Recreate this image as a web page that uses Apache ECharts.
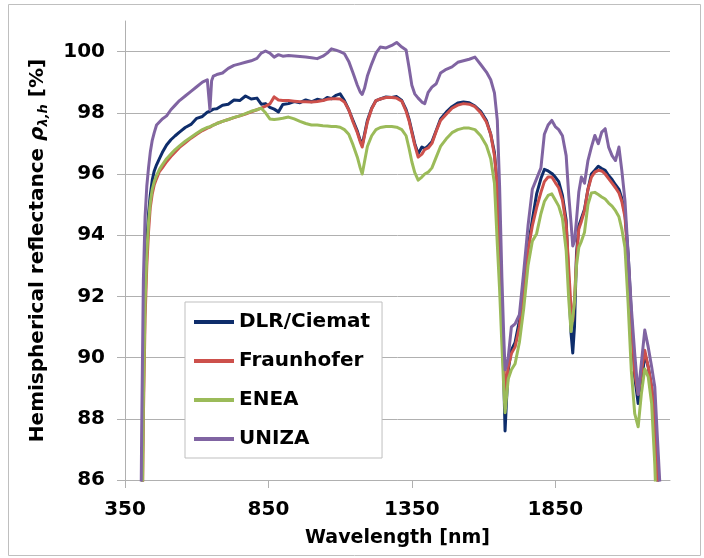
<!DOCTYPE html>
<html>
<head>
<meta charset="utf-8">
<script src="https://cdn.jsdelivr.net/npm/echarts@6/dist/echarts.min.js"></script>
<style>
  html, body { margin: 0; padding: 0; background: #fff; }
  #chart { width: 704px; height: 558px; }
</style>
</head>
<body>
<div id="chart"></div>
<script>
// wavelength grid [nm]
var wavelength = [400, 408, 414, 420, 426, 432, 438, 445, 452, 460,
  470, 480, 495, 510, 525, 540, 560, 580, 600, 620,
  637, 646, 652, 658, 670, 690, 710, 730, 750, 770,
  790, 810, 825, 840, 855, 870, 885, 900, 920, 940,
  960, 980, 1000, 1020, 1040, 1055, 1070, 1085, 1100, 1115,
  1130, 1145, 1160, 1170, 1177, 1185, 1195, 1210, 1225, 1240,
  1260, 1280, 1297, 1315, 1330, 1340, 1350, 1360, 1372, 1385,
  1395, 1407, 1420, 1435, 1450, 1470, 1490, 1510, 1530, 1550,
  1570, 1590, 1610, 1625, 1638, 1648, 1656, 1664, 1670, 1675,
  1680, 1686, 1697, 1710, 1725, 1740, 1755, 1770, 1785, 1800,
  1812, 1825, 1838, 1850, 1862, 1875, 1888, 1897, 1905, 1911,
  1917, 1924, 1932, 1941, 1952, 1964, 1976, 1988, 2000, 2012,
  2024, 2036, 2048, 2060, 2072, 2082, 2093, 2104, 2115, 2127,
  2139, 2150, 2162, 2174, 2186, 2197, 2206, 2214, 2222];

var dlrCiemat = [78, 84, 89.5, 92.3, 93.8, 94.7, 95.3, 95.8, 96.1, 96.3,
  96.5, 96.7, 96.95, 97.12, 97.25, 97.37, 97.52, 97.62, 97.82, 97.88,
  98.02, 98.05, 98.08, 98.12, 98.13, 98.25, 98.28, 98.42, 98.4, 98.55,
  98.45, 98.48, 98.28, 98.3, 98.18, 98.12, 98.03, 98.27, 98.3, 98.37,
  98.33, 98.42, 98.36, 98.44, 98.4, 98.5, 98.46, 98.57, 98.62, 98.4,
  98.1, 97.75, 97.4, 97.1, 96.95, 97.3, 97.75, 98.15, 98.4, 98.45,
  98.52, 98.5, 98.53, 98.4, 98.1, 97.8, 97.4, 97.0, 96.66, 96.88,
  96.83, 96.92, 97.05, 97.42, 97.8, 98.02, 98.2, 98.32, 98.35, 98.33,
  98.22, 98.05, 97.75, 97.3, 96.7, 95.6, 93.4, 91.3, 89.5, 87.6,
  88.6, 89.6, 90.24, 90.5, 91.2, 92.4, 93.6, 94.5, 95.35, 95.85,
  96.15, 96.1, 96.02, 95.9, 95.75, 95.3, 94.5, 92.5, 90.8, 90.15,
  91.0, 93.4, 94.3, 94.55, 94.85, 95.5, 96.0, 96.12, 96.25, 96.18,
  96.12, 95.95, 95.82, 95.65, 95.5, 95.2, 94.7, 93.4, 91.44, 89.37,
  88.5, 89.04, 90.13, 89.7, 89.04, 87.95, 86.5, 84, 81];

var fraunhofer = [78, 82.5, 88, 91.3, 93.0, 94.1, 94.9, 95.35, 95.65, 95.85,
  96.08, 96.2, 96.4, 96.57, 96.72, 96.87, 97.02, 97.17, 97.3, 97.42,
  97.5, 97.53, 97.56, 97.6, 97.65, 97.72, 97.78, 97.84, 97.9, 97.96,
  98.03, 98.1, 98.15, 98.22, 98.29, 98.52, 98.42, 98.4, 98.4, 98.38,
  98.36, 98.36, 98.35, 98.37, 98.4, 98.44, 98.46, 98.46, 98.45, 98.35,
  98.1, 97.7, 97.35, 97.05, 96.88, 97.25, 97.7, 98.13, 98.4, 98.45,
  98.5, 98.5, 98.48, 98.38, 98.05, 97.75, 97.35, 96.95, 96.55, 96.65,
  96.8, 96.85, 97.0, 97.4, 97.75, 97.95, 98.15, 98.25, 98.3, 98.28,
  98.2, 98.0, 97.7, 97.3, 96.6, 95.6, 93.6, 91.6, 90.0, 88.9,
  89.2, 89.7, 90.13, 90.35, 91.0, 92.2, 93.5, 94.3, 94.9, 95.4,
  95.75, 95.9, 95.9, 95.72, 95.55, 95.15, 94.35, 92.9, 91.6, 91.2,
  91.9, 93.2, 94.2, 94.45, 94.8, 95.5, 95.9, 96.06, 96.12, 96.1,
  96.0, 95.85, 95.7, 95.55, 95.38, 95.1, 94.6, 93.2, 91.3, 89.5,
  88.8, 89.5, 90.24, 89.7, 89.04, 88.0, 86.3, 84, 81];

var enea = [78, 83, 88.5, 91.8, 93.4, 94.4, 95.05, 95.5, 95.75, 95.95,
  96.15, 96.3, 96.5, 96.65, 96.8, 96.92, 97.07, 97.2, 97.33, 97.45,
  97.52, 97.55, 97.57, 97.6, 97.65, 97.72, 97.78, 97.85, 97.9, 97.97,
  98.05, 98.1, 98.15, 98.0, 97.8, 97.78, 97.8, 97.82, 97.86, 97.8,
  97.72, 97.65, 97.6, 97.6, 97.58, 97.57, 97.55, 97.55, 97.53, 97.45,
  97.3, 96.95, 96.55, 96.2, 96.0, 96.4, 96.9, 97.25, 97.45, 97.52,
  97.55, 97.55, 97.53, 97.45, 97.25, 96.85, 96.4, 96.05, 95.8, 95.9,
  96.0, 96.06, 96.2, 96.55, 96.9, 97.15, 97.35, 97.45, 97.5, 97.5,
  97.45, 97.25, 96.93, 96.5, 95.7, 93.7, 92.2, 90.4, 89.1, 88.2,
  88.7, 89.3, 89.6, 89.8, 90.5, 91.6, 93.0, 93.8, 94.05, 94.7,
  95.1, 95.3, 95.35, 95.15, 94.95, 94.55, 93.5, 91.9, 90.85, 90.85,
  91.8, 93.0, 93.6, 93.8, 94.1, 95.0, 95.38, 95.4, 95.33, 95.25,
  95.18, 95.05, 94.95, 94.8, 94.6, 94.2, 93.6, 91.76, 89.59, 88.17,
  87.74, 88.8, 89.63, 89.37, 88.5, 86.5, 84, 82, 80];

var uniza = [78, 87.5, 92.5, 94.6, 95.6, 96.2, 96.7, 97.1, 97.35, 97.6,
  97.7, 97.8, 97.9, 98.1, 98.25, 98.4, 98.55, 98.7, 98.85, 99.0,
  99.08, 98.1, 99.05, 99.2, 99.25, 99.3, 99.45, 99.55, 99.6, 99.65,
  99.7, 99.78, 99.95, 100.02, 99.95, 99.82, 99.9, 99.85, 99.87, 99.86,
  99.84, 99.82, 99.8, 99.77, 99.85, 99.95, 100.09, 100.05, 100.0, 99.93,
  99.68, 99.3, 98.9, 98.68, 98.6, 98.8, 99.2, 99.6, 99.95, 100.15,
  100.12, 100.2, 100.3, 100.15, 100.05, 99.5, 98.9, 98.62, 98.48, 98.35,
  98.3, 98.67, 98.84, 98.95, 99.3, 99.42, 99.5, 99.65, 99.7, 99.75,
  99.82, 99.58, 99.33, 99.08, 98.65, 97.75, 95.57, 92.6, 90.8, 89.6,
  89.75, 90.0, 91.0, 91.1, 91.4, 92.8, 94.3, 95.5, 95.85, 96.2,
  97.3, 97.6, 97.75, 97.55, 97.45, 97.25, 96.6, 95.3, 94.4, 93.65,
  93.8, 94.5, 95.4, 95.9, 95.7, 96.44, 96.88, 97.26, 96.99, 97.37,
  97.48, 96.88, 96.6, 96.44, 96.88, 96.12, 95.13, 93.4, 91.65, 90.13,
  88.8, 89.8, 90.9, 90.35, 89.7, 89.04, 87.4, 86, 83];

var seriesNames = ['DLR/Ciemat', 'Fraunhofer', 'ENEA', 'UNIZA'];
var xTicks = [350, 850, 1350, 1850];
var yTicks = [86, 88, 90, 92, 94, 96, 98, 100];

var colorList = ['#0e2d6b', '#cd504b', '#9bbb59', '#8064a2'];
var fontFamily = '"DejaVu Sans", sans-serif';
var gridColor = '#b0b0b0';

function pairs(values) {
  var out = [];
  for (var i = 0; i < wavelength.length; i++) {
    out.push([wavelength[i], values[i]]);
  }
  return out;
}

var allValues = [dlrCiemat, fraunhofer, enea, uniza];

var myChart = echarts.init(document.getElementById('chart'), null, { renderer: 'canvas' });
var option = {
  animation: false,
  backgroundColor: '#ffffff',
  graphic: [{
    type: 'rect',
    silent: true,
    shape: { x: 8.5, y: 4.5, width: 692, height: 551 },
    style: { fill: 'none', stroke: '#bfbfbf', lineWidth: 1 }
  }],
  grid: { left: 125, right: 34, top: 21, bottom: 78 },
  legend: {
    orient: 'vertical',
    left: 185,
    top: 302,
    padding: [8, 12, 7, 9],
    itemGap: 15,
    itemWidth: 40,
    itemHeight: 4,
    icon: 'rect',
    backgroundColor: '#ffffff',
    borderColor: '#bfbfbf',
    borderWidth: 1,
    borderRadius: 0,
    textStyle: {
      color: '#000',
      fontFamily: fontFamily,
      fontWeight: 'bold',
      fontSize: 20,
      lineHeight: 24
    },
    data: seriesNames
  },
  xAxis: {
    type: 'value',
    min: 350,
    max: 2250,
    name: 'Wavelength [nm]',
    nameLocation: 'middle',
    nameGap: 49,
    nameTextStyle: { color: '#000', fontFamily: fontFamily, fontWeight: 'bold', fontSize: 19 },
    axisLine: { show: true, lineStyle: { color: gridColor, width: 1 } },
    axisTick: { show: true, customValues: xTicks, length: 8, lineStyle: { color: gridColor } },
    axisLabel: {
      customValues: xTicks,
      margin: 20,
      color: '#000',
      fontFamily: fontFamily,
      fontWeight: 'bold',
      fontSize: 20,
      formatter: function (v) { return String(v); }
    },
    splitLine: { show: false }
  },
  yAxis: {
    type: 'value',
    min: 86,
    max: 101,
    name: '{t|Hemispherical reflectance }{r|ρ}{s|λ,h}{t| [%]}',
    nameLocation: 'middle',
    nameGap: 75,
    nameTextStyle: {
      rich: {
        t: { color: '#000', fontFamily: fontFamily, fontWeight: 'bold', fontSize: 20, lineHeight: 24 },
        r: { color: '#000', fontFamily: fontFamily, fontWeight: 'bold', fontStyle: 'italic', fontSize: 20, lineHeight: 24 },
        s: { color: '#000', fontFamily: fontFamily, fontWeight: 'bold', fontStyle: 'italic', fontSize: 13, lineHeight: 8, verticalAlign: 'bottom' }
      }
    },
    axisLine: { show: true, lineStyle: { color: gridColor, width: 1 } },
    axisTick: { show: true, customValues: yTicks, length: 8, lineStyle: { color: gridColor } },
    axisLabel: {
      customValues: yTicks,
      margin: 20,
      color: '#000',
      fontFamily: fontFamily,
      fontWeight: 'bold',
      fontSize: 20,
      formatter: function (v) { return String(v); }
    },
    splitLine: { show: true, lineStyle: { color: gridColor, width: 1 } }
  },
  series: []
};

for (var i = 0; i < seriesNames.length; i++) {
  option.series.push({
    name: seriesNames[i],
    type: 'line',
    showSymbol: false,
    symbol: 'none',
    clip: true,
    itemStyle: { color: colorList[i] },
    lineStyle: { color: colorList[i], width: 3, join: 'round' },
    data: pairs(allValues[i])
  });
}

myChart.setOption(option, true);
</script>
</body>
</html>
